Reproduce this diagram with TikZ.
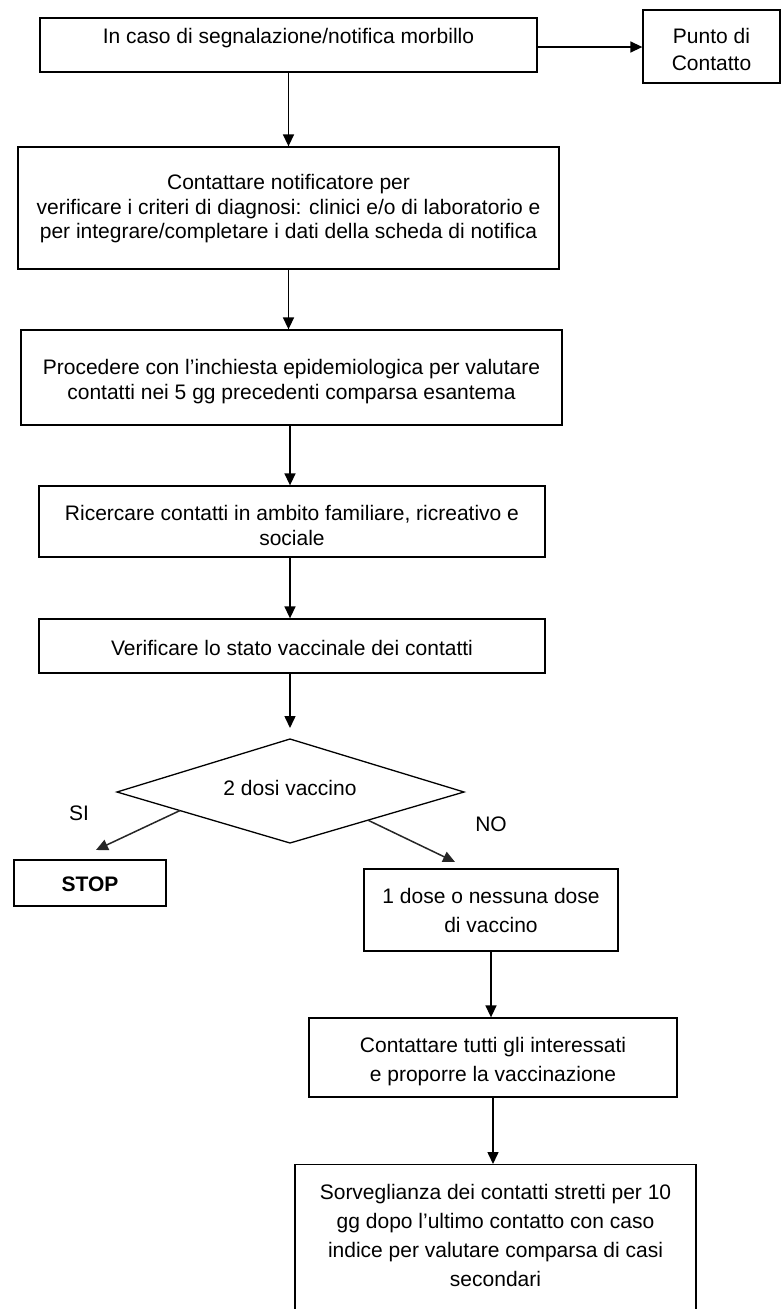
\documentclass[tikz,border=0pt]{standalone}
\usepackage{fontspec}
\setmainfont{Liberation Sans}
\usetikzlibrary{arrows.meta,calc}
\begin{document}
\begin{tikzpicture}[x=1pt,y=-1pt,
  box/.style={draw, line width=1.3pt, inner sep=0pt},
  txt/.style={inner sep=0pt, align=center, font=\fontsize{21}{25}\selectfont},
  flow/.style={line width=1.5pt, -{Triangle[length=12pt,width=11pt]}},
  diag/.style={line width=1.5pt, draw=black!85, -{Triangle[length=12pt,width=11pt]}},
]
\useasboundingbox (0,0) rectangle (781,1309);
\fill[white] (0,0) rectangle (781,1309);

% boxes
\node[box, minimum width=497pt, minimum height=54pt] (b1) at (288.5,45) {};
\node[box, minimum width=137pt, minimum height=73pt] (pc) at (711.5,46.5) {};
\node[box, minimum width=541pt, minimum height=122pt] (b2) at (288.5,208) {};
\node[box, minimum width=541pt, minimum height=95pt] (b3) at (291.5,377.5) {};
\node[box, minimum width=506pt, minimum height=71pt] (b4) at (292,521.5) {};
\node[box, minimum width=506pt, minimum height=54pt] (b5) at (292,646) {};
\node[box, minimum width=152pt, minimum height=46pt] (stop) at (90,883) {};
\node[box, minimum width=254pt, minimum height=82pt] (b6) at (491,910) {};
\node[box, minimum width=368pt, minimum height=79pt] (b7) at (493,1057.5) {};
\node[box, minimum width=401pt, minimum height=200pt, anchor=north] (b8) at (495.5,1164) {};

% decision diamond
\coordinate (dT) at (290,739);
\coordinate (dL) at (117,792);
\coordinate (dR) at (464,792);
\coordinate (dB) at (290,843);
\draw[line width=1.3pt] (dT) -- (dR) -- (dB) -- (dL) -- cycle;

% texts
\node[txt] (b1t) at (288.5,38) {In caso di segnalazione/notifica morbillo};
\node[txt, font=\fontsize{21}{27}\selectfont] (pct) at (711.5,49) {Punto di\\Contatto};
\node[txt, font=\fontsize{21}{24.5}\selectfont] (b2t) at (288.5,209) {Contattare notificatore per\\verificare i criteri di diagnosi: clinici e/o di laboratorio e\\per integrare/completare i dati della scheda di notifica};
\node[txt] (b3t) at (291.5,382) {Procedere con l’inchiesta epidemiologica per valutare\\contatti nei 5 gg precedenti comparsa esantema};
\node[txt, font=\fontsize{21}{25}\selectfont] (b4t) at (292,525) {Ricercare contatti in ambito familiare, ricreativo e\\sociale};
\node[txt] (b5t) at (292,648) {Verificare lo stato vaccinale dei contatti};
\node[txt] (dt) at (290,788) {2 dosi vaccino};
\node[txt] (si) at (79,813) {SI};
\node[txt] (no) at (491,824) {NO};
\node[txt, font=\fontsize{21}{25}\selectfont\bfseries] (stopt) at (90,884) {STOP};
\node[txt, font=\fontsize{21}{29}\selectfont] (b6t) at (491,910) {1 dose o nessuna dose\\di vaccino};
\node[txt, font=\fontsize{21}{29}\selectfont] (b7t) at (493,1062) {Contattare tutti gli interessati\\e proporre la vaccinazione};
\node[txt, font=\fontsize{21}{29}\selectfont] (b8t) at (495.5,1235) {Sorveglianza dei contatti stretti per 10\\gg dopo l’ultimo contatto con caso\\indice per valutare comparsa di casi\\secondari};

% connectors
\coordinate (siend) at (96,850);
\coordinate (noend) at (455,862);
\draw[flow] (b1.east |- 0,47) -- (pc.west |- 0,47);
\draw[flow] (b1.south) -- (b1.south |- b2.north);
\draw[flow] (b2.south) -- (b2.south |- b3.north);
\draw[flow] (b3.south -| dT) -- (b4.north -| dT);
\draw[flow] (b4.south -| dT) -- (b5.north -| dT);
\draw[flow] (b5.south -| dT) -- ($(dT)+(0,-11)$);
\draw[diag] ($(dL)!0.364!(dB)$) -- (siend);
\draw[diag] ($(dB)!0.448!(dR)$) -- (noend);
\draw[flow] (b6.south) -- (b6.south |- b7.north);
\draw[flow] (b7.south) -- (b7.south |- b8.north);
\end{tikzpicture}
\end{document}
